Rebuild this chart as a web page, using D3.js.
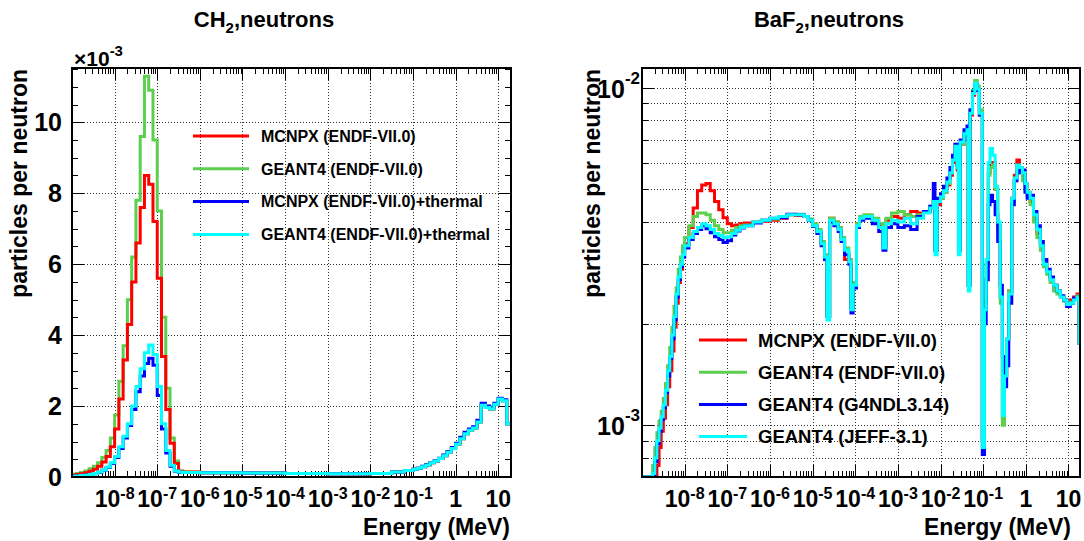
<!DOCTYPE html>
<html><head><meta charset="utf-8">
<script src="https://cdn.jsdelivr.net/npm/d3@7/dist/d3.min.js"></script>
<style>
body{margin:0;background:#fff}
svg{display:block}
text{font-family:"Liberation Sans",Arial,Helvetica,sans-serif;font-weight:bold;fill:#000}
</style></head>
<body><svg id="c" width="1084" height="541"></svg>
<script>
// ---------------- DATA ----------------
// CH2 panel: bin edges as log10(E/MeV); values in units of 1e-3 particles per neutron
const ch2LogE = [-9.0,-8.9,-8.8,-8.7,-8.6,-8.5,-8.4,-8.3,-8.2,-8.1,-8.0,-7.9,-7.8,-7.7,-7.6,-7.5,-7.4,-7.3,-7.2,-7.1,-7.0,-6.9,-6.8,-6.7,-6.6,-6.5,-6.4,
  -6.0,-5.0,-4.0,-3.0,-2.0,-1.5,-1.2,
  -1.0,-0.9,-0.8,-0.7,-0.6,-0.5,-0.4,-0.3,-0.2,-0.1,0.0,0.1,0.2,0.3,0.4,0.5,0.6,0.7,0.8,0.9,1.0,1.1,1.2,1.3];
const ch2Mcnpx = [.05,.07,.09,.12,.16,.22,.30,.42,.58,.85,1.35,2.20,3.30,4.30,5.50,6.60,7.60,8.50,8.25,7.20,5.60,3.40,1.90,.95,.38,.16,.14,
  .12,.11,.10,.09,.10,.14,.18,
  .22,.25,.29,.34,.40,.45,.52,.60,.70,.80,.92,1.08,1.22,1.32,1.38,1.55,2.02,1.96,1.92,2.05,2.20,2.15,1.50];
const ch2Geant = [.08,.10,.13,.17,.23,.30,.40,.55,.75,1.10,1.75,2.70,3.70,5.00,6.20,7.80,9.60,11.30,10.90,9.50,7.50,4.50,2.50,1.10,.45,.17,.14,
  .12,.11,.10,.09,.10,.14,.18,
  .22,.25,.29,.34,.40,.45,.52,.60,.70,.80,.92,1.08,1.22,1.32,1.38,1.55,2.02,1.96,1.92,2.05,2.20,2.15,1.50];
const ch2McnpxTh = [.02,.03,.04,.05,.07,.09,.13,.19,.27,.38,.55,.80,1.10,1.45,1.90,2.40,2.85,3.20,3.35,3.15,2.30,1.35,.68,.30,.16,.13,.13,
  .12,.11,.10,.09,.10,.14,.18,
  .22,.25,.30,.35,.41,.46,.53,.62,.72,.83,.95,1.12,1.26,1.35,1.42,1.60,2.08,2.00,1.95,2.08,2.22,2.18,1.50];
const ch2GeantTh = [.02,.03,.04,.05,.07,.10,.14,.20,.28,.40,.58,.85,1.15,1.50,2.00,2.55,3.05,3.50,3.72,3.45,2.55,1.50,.75,.33,.17,.14,.13,
  .12,.11,.10,.09,.10,.14,.18,
  .22,.25,.29,.34,.40,.45,.52,.60,.70,.80,.92,1.08,1.22,1.32,1.38,1.55,2.02,1.96,1.92,2.05,2.20,2.15,1.50];

// BaF2 panel: bin edges as log10(E/MeV); values in units of 1e-3 particles per neutron
const baf2LogE = [-9.0,-8.75,-8.7,-8.65,-8.6,-8.55,-8.5,-8.45,-8.4,-8.35,-8.3,-8.25,-8.2,-8.15,-8.1,-8.05,-8.0,
  -7.9,-7.8,-7.7,-7.6,-7.5,-7.4,-7.3,-7.2,-7.1,-7.0,-6.9,-6.8,-6.7,-6.6,
  -6.4,-6.2,-6.0,-5.8,-5.6,-5.4,-5.2,-5.1,-5.0,-4.9,-4.8,-4.72,-4.66,
  -4.6,-4.5,-4.4,-4.33,-4.25,-4.15,-4.1,-4.05,-3.97,-3.9,-3.8,-3.6,-3.45,-3.35,
  -3.28,-3.15,-3.0,-2.85,-2.7,-2.55,-2.4,-2.25,-2.17,-2.13,-2.08,-2.0,
  -1.93,-1.85,-1.78,-1.72,-1.66,-1.61,-1.58,-1.54,-1.45,-1.38,-1.35,-1.31,-1.25,-1.2,-1.14,-1.09,
  -1.02,-0.97,-0.93,-0.88,-0.84,-0.78,-0.72,-0.66,-0.6,-0.55,-0.5,-0.45,-0.4,
  -0.33,-0.27,-0.21,-0.15,-0.08,-0.02,0.03,0.1,0.18,0.26,0.34,0.41,0.49,0.57,0.65,0.73,0.81,0.89,0.96,1.04,1.12,1.2,1.25,1.28];
const baf2Mcnpx = [0.5,0.5,0.66,0.76,0.86,0.96,1.05,1.15,1.3,1.45,1.66,1.95,2.3,2.65,2.9,3.15,3.45,
  3.85,4.4,4.95,5.15,5.2,4.95,4.6,4.35,4.12,3.95,3.9,3.92,3.95,3.97,
  4.0,4.02,4.05,4.1,4.2,4.18,4.15,4.05,3.92,3.75,3.45,3.1,2.1,
  4.1,4.0,3.85,3.6,3.1,3.1,2.25,2.65,3.95,4.15,4.15,4.05,3.9,3.4,
  4.05,4.15,4.1,4.2,4.3,4.25,4.3,4.4,4.6,3.3,4.5,4.7,
  4.9,5.15,5.5,6.0,6.6,5.7,3.3,6.8,7.2,7.4,2.6,8.3,9.5,10.2,9.8,8.3,
  0.9,2.3,3.0,5.6,6.0,6.0,5.0,3.9,2.4,1.05,1.4,1.8,2.5,
  4.7,5.5,6.1,5.8,5.5,5.2,4.9,4.6,4.1,3.7,3.4,3.1,2.85,2.7,2.6,2.5,2.4,2.35,2.25,2.35,2.4,2.45,1.75];
const baf2GeantEndf = [0.5,0.76,0.86,0.95,1.03,1.1,1.2,1.33,1.5,1.7,1.95,2.25,2.55,2.9,3.15,3.4,3.6,
  3.9,4.15,4.25,4.25,4.2,4.05,3.9,3.8,3.72,3.72,3.78,3.85,3.9,3.92,
  4.0,4.05,4.08,4.15,4.2,4.22,4.15,4.08,3.95,3.8,3.5,3.2,2.1,
  4.1,4.0,3.85,3.6,3.35,3.1,2.25,2.65,3.95,4.15,4.2,4.1,3.95,3.4,
  4.1,4.25,4.3,4.2,4.15,4.2,4.3,4.45,4.7,3.3,4.6,4.7,
  4.9,5.2,5.6,6.2,6.8,5.9,3.3,6.8,7.2,7.4,2.6,8.5,9.8,10.5,10.1,8.6,
  0.9,2.3,3.0,5.5,5.8,5.9,5.0,3.8,2.3,1.0,1.4,1.8,2.5,
  4.6,5.3,5.8,5.6,5.3,5.0,4.8,4.5,4.0,3.6,3.3,2.95,2.8,2.65,2.5,2.45,2.4,2.33,2.3,2.32,2.36,2.42,1.75];
const baf2GeantG4ndl = [0.5,0.7,0.78,0.88,0.96,1.04,1.13,1.25,1.4,1.58,1.8,2.05,2.4,2.7,2.95,3.15,3.35,
  3.55,3.7,3.8,3.9,3.82,3.72,3.62,3.55,3.48,3.52,3.66,3.76,3.84,3.9,
  3.97,4.05,4.1,4.12,4.22,4.2,4.15,4.05,3.88,3.7,3.4,3.1,2.1,
  4.0,3.9,3.75,3.5,3.2,3.0,2.15,2.55,3.85,4.05,4.1,3.95,3.75,3.3,
  3.85,3.95,3.85,3.9,3.8,4.15,4.3,4.45,5.2,3.3,4.7,4.85,
  5.1,5.4,5.8,6.3,6.8,5.9,3.3,7.0,7.5,7.7,2.6,8.6,9.7,10.2,9.8,8.3,
  0.82,2.0,2.7,4.5,4.8,4.6,4.2,3.5,2.6,1.6,1.3,1.5,2.3,
  4.5,5.3,5.6,5.7,5.7,4.9,4.7,4.8,4.3,3.9,3.5,3.1,2.9,2.75,2.6,2.5,2.42,2.35,2.25,2.3,2.38,2.4,1.75];
const baf2GeantJeff = [0.5,0.72,0.8,0.9,0.98,1.06,1.15,1.27,1.45,1.6,1.85,2.1,2.45,2.75,3.0,3.2,3.4,
  3.6,3.75,3.85,3.95,3.9,3.8,3.7,3.65,3.6,3.62,3.7,3.78,3.85,3.9,
  4.0,4.05,4.1,4.15,4.2,4.2,4.15,4.05,3.9,3.75,3.45,3.15,2.05,
  4.05,3.95,3.8,3.55,3.3,3.05,2.2,2.6,3.9,4.1,4.15,4.05,3.85,3.35,
  3.95,4.05,4.0,4.1,3.95,4.1,4.25,4.4,4.6,3.2,4.6,4.75,
  4.95,5.25,5.6,6.1,6.7,5.8,3.2,6.9,7.3,7.5,2.5,8.4,9.6,10.3,9.9,8.4,
  0.86,2.2,3.1,6.0,6.6,6.3,5.1,4.0,2.4,1.07,1.4,1.8,2.45,
  4.7,5.4,5.9,5.8,5.6,5.2,4.9,4.7,4.2,3.8,3.4,3.0,2.85,2.7,2.6,2.5,2.4,2.35,2.28,2.3,2.35,2.4,1.75];

// labels
const ch2Legend = ["MCNPX (ENDF-VII.0)","GEANT4 (ENDF-VII.0)","MCNPX (ENDF-VII.0)+thermal","GEANT4 (ENDF-VII.0)+thermal"];
const baf2Legend = ["MCNPX (ENDF-VII.0)","GEANT4 (ENDF-VII.0)","GEANT4 (G4NDL3.14)","GEANT4 (JEFF-3.1)"];
const energyLabelExps = [-8,-7,-6,-5,-4,-3,-2,-1,0,1];
const ch2YLabels = [0,2,4,6,8,10];
const baf2YLabelExps = [-3,-2];

// ---------------- STYLE ----------------
const colors = ["#ff0000","#5ccf4f","#0000ff","#00ffff"];
const svg = d3.select("#c");

function stepPoints(edges, vals){
  const pts = vals.map((v,i)=>[edges[i], v]);
  pts.push([edges[vals.length], vals[vals.length-1]]);
  return pts;
}
function supText(g, x, y, base, exp, fs, sfs, raise, anchor){
  const t = g.append("text").attr("x",x).attr("y",y).attr("font-size",fs).attr("text-anchor",anchor);
  t.append("tspan").text(base);
  if(exp!==null) t.append("tspan").attr("dy",-raise).attr("font-size",sfs).text(exp);
  return t;
}

function drawPanel(cfg){
  const {x0,x1,y0,y1} = cfg;
  const g = svg.append("g");
  const xs = d3.scaleLog().domain(cfg.xDomain).range([x0,x1]);
  const ys = cfg.yLog ? d3.scaleLog().domain(cfg.yDomain).range([y1,y0]).clamp(true)
                      : d3.scaleLinear().domain(cfg.yDomain).range([y1,y0]);
  const id = "clip"+cfg.name;
  svg.append("clipPath").attr("id",id).append("rect")
    .attr("x",x0).attr("y",y0-1).attr("width",x1-x0).attr("height",y1-y0+2);

  // grid
  const grid = g.append("g").attr("stroke","#333").attr("stroke-width",1).attr("stroke-dasharray","1,2");
  energyLabelExps.forEach(k=>{
    const X = Math.round(xs(Math.pow(10,k)))+0.5;
    grid.append("line").attr("x1",X).attr("x2",X).attr("y1",y0).attr("y2",y1);
  });
  cfg.yGrid.forEach(v=>{
    const Y = Math.round(ys(v))+0.5;
    if (Y>y0+1 && Y<y1-1) grid.append("line").attr("x1",x0).attr("x2",x1).attr("y1",Y).attr("y2",Y);
  });

  // x ticks (log, bottom & top)
  const ticks = g.append("g").attr("stroke","#000").attr("stroke-width",1);
  for(let k=-9;k<=1;k++){
    for(let m=1;m<=9;m++){
      const v = m*Math.pow(10,k);
      if(v<cfg.xDomain[0]*0.999 || v>cfg.xDomain[1]) continue;
      const X = Math.round(xs(v))+0.5;
      const len = m===1?12:6;
      ticks.append("line").attr("x1",X).attr("x2",X).attr("y1",y1).attr("y2",y1-len);
      ticks.append("line").attr("x1",X).attr("x2",X).attr("y1",y0).attr("y2",y0+len);
    }
  }
  // y ticks
  cfg.yTicks.forEach(([v,major])=>{
    const Y = Math.round(ys(v))+0.5;
    const len = major?12:6;
    ticks.append("line").attr("x1",x0).attr("x2",x0+len).attr("y1",Y).attr("y2",Y);
    ticks.append("line").attr("x1",x1).attr("x2",x1-len).attr("y1",Y).attr("y2",Y);
  });

  // histograms
  const line = d3.line().curve(d3.curveStepAfter).x(d=>xs(Math.pow(10,d[0]))).y(d=>ys(d[1]));
  const hg = g.append("g").attr("clip-path",`url(#${id})`);
  cfg.series.forEach(s=>{
    hg.append("path").attr("d",line(stepPoints(cfg.edges,s.vals)))
      .attr("fill","none").attr("stroke",colors[s.c]).attr("stroke-width",3)
      .attr("stroke-linejoin","miter");
  });

  // frame
  g.append("rect").attr("x",x0).attr("y",y0).attr("width",x1-x0).attr("height",y1-y0)
    .attr("fill","none").attr("stroke","#000").attr("stroke-width",2);

  // x tick labels
  energyLabelExps.forEach(k=>{
    const X = xs(Math.pow(10,k));
    if(k<0) supText(g,X,507,"10",String(k),23,16,8,"middle");
    else supText(g,X,507,k===0?"1":"10",null,23,16,8,"middle");
  });
  // x title
  g.append("text").attr("x",cfg.xTitleX).attr("y",535).attr("font-size",23)
    .attr("text-anchor","end").text("Energy (MeV)");
  // y title
  g.append("text").attr("transform",`translate(${cfg.yTitleX},${y0+1}) rotate(-90)`)
    .attr("font-size",23).attr("text-anchor","end").text("particles per neutron");
  // title
  const tt = g.append("text").attr("x",cfg.titleX).attr("y",27).attr("font-size",22).attr("text-anchor","middle");
  tt.append("tspan").text(cfg.titleA);
  tt.append("tspan").attr("dy",6).attr("font-size",15).text("2");
  tt.append("tspan").attr("dy",-6).text(",neutrons");

  cfg.yLabels(g, ys);

  // legend
  cfg.legend.names.forEach((name,i)=>{
    const Y = cfg.legend.y0 + i*cfg.legend.dy;
    g.append("line").attr("x1",cfg.legend.lx0).attr("x2",cfg.legend.lx1).attr("y1",Y).attr("y2",Y)
      .attr("stroke",colors[cfg.legend.order[i]]).attr("stroke-width",3);
    g.append("text").attr("x",cfg.legend.tx).attr("y",Y+cfg.legend.fs*0.36).attr("font-size",cfg.legend.fs).text(name);
  });
}

// ---------- CH2 panel ----------
const ch2YTicks = [];
for(let v=0; v<=11.5; v+=0.5) ch2YTicks.push([v, v%2===0]);
drawPanel({
  name:"ch2", x0:72, x1:511, y0:68, y1:477,
  xDomain:[1e-9, Math.pow(10,1.3)], yDomain:[0,11.53], yLog:false,
  yGrid: ch2YLabels, yTicks: ch2YTicks,
  edges: ch2LogE,
  series:[{vals:ch2Geant,c:1},{vals:ch2Mcnpx,c:0},{vals:ch2McnpxTh,c:2},{vals:ch2GeantTh,c:3}],
  xTitleX:510, yTitleX:27, titleX:264, titleA:"CH",
  yLabels:(g,ys)=>{
    ch2YLabels.forEach(v=>{
      g.append("text").attr("x",62).attr("y",ys(v)+9).attr("font-size",25).attr("text-anchor","end").text(v);
    });
    supText(g,74,66,"\u00d710","-3",21,15,10,"start");
  },
  legend:{names:ch2Legend, order:[0,1,2,3], y0:136, dy:32.8, lx0:193, lx1:249, tx:261, fs:16}
});

// ---------- BaF2 panel ----------
const baf2YGrid = [], baf2YTicks = [];
[0.1,1,10].forEach(d=>{ for(let m=1;m<=9;m++){ const v=m*d; if(v>=0.703 && v<=11.43){ baf2YGrid.push(v); baf2YTicks.push([v,m===1]); } } });
drawPanel({
  name:"baf2", x0:642, x1:1080, y0:68, y1:477,
  xDomain:[1e-9, Math.pow(10,1.27)], yDomain:[0.703,11.43], yLog:true,
  yGrid: baf2YGrid, yTicks: baf2YTicks,
  edges: baf2LogE,
  series:[{vals:baf2Mcnpx,c:0},{vals:baf2GeantEndf,c:1},{vals:baf2GeantG4ndl,c:2},{vals:baf2GeantJeff,c:3}],
  xTitleX:1071, yTitleX:600, titleX:829, titleA:"BaF",
  yLabels:(g,ys)=>{
    baf2YLabelExps.forEach(k=>{
      supText(g,640,ys(Math.pow(10,k+3))+10,"10",String(k),25,17,14,"end");
    });
  },
  legend:{names:baf2Legend, order:[0,1,2,3], y0:340, dy:32.2, lx0:699, lx1:747, tx:758, fs:18.5}
});
</script>
</body></html>
